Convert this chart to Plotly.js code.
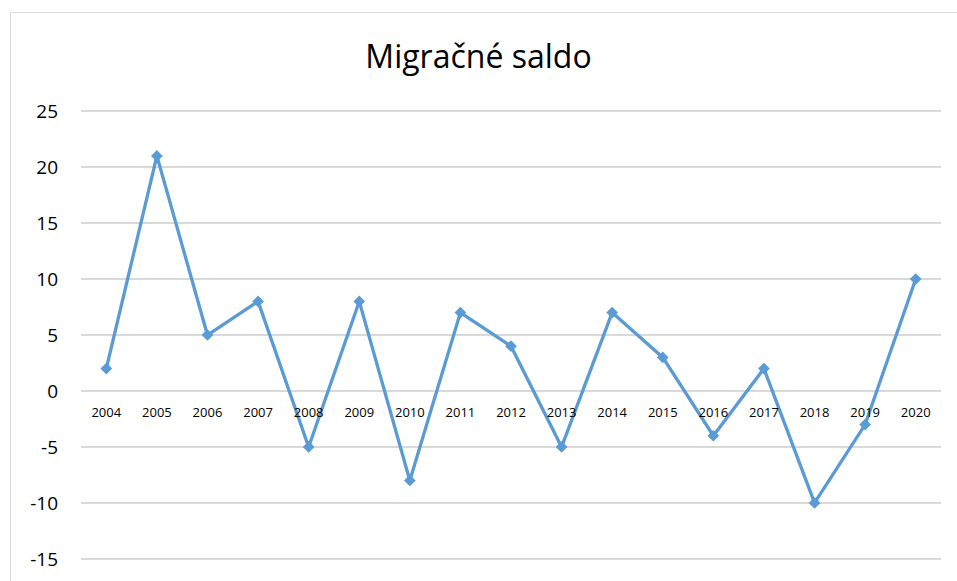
<!DOCTYPE html>
<html>
<head>
<meta charset="utf-8">
<script src="https://cdn.plot.ly/plotly-3.0.1.min.js"></script>
<style>
html,body{margin:0;padding:0;background:#fff;overflow:hidden;}
#frame{position:absolute;left:10px;top:12px;width:980px;height:600px;border:1px solid #d9d9d9;box-sizing:border-box;}
#chart{position:absolute;left:0;top:0;width:957px;height:581px;}
</style>
</head>
<body>
<div id="frame"></div>
<div id="chart"></div>
<script>
const years = ["2004","2005","2006","2007","2008","2009","2010","2011","2012","2013","2014","2015","2016","2017","2018","2019","2020"];
const saldo = [2, 21, 5, 8, -5, 8, -8, 7, 4, -5, 7, 3, -4, 2, -10, -3, 10];
const yTicks = [-15, -10, -5, 0, 5, 10, 15, 20, 25];
const titleText = "Migračné saldo";

const yMin = -15.1, yMax = 25.1;

const trace = {
  x: years,
  y: saldo,
  type: "scatter",
  mode: "lines+markers",
  line: {color: "#5B9BD5", width: 3.3},
  marker: {symbol: "diamond", size: 9, color: "#5B9BD5"},
  hoverinfo: "x+y"
};

const layout = {
  width: 957,
  height: 581,
  paper_bgcolor: "rgba(0,0,0,0)",
  plot_bgcolor: "rgba(0,0,0,0)",
  margin: {l: 81, r: 16, t: 110, b: 21},
  showlegend: false,
  title: {
    text: titleText,
    font: {family: "Open Sans, sans-serif", size: 32, color: "#000"},
    x: 0.5, xanchor: "center",
    y: 1 - 57/581, yanchor: "middle", yref: "container"
  },
  xaxis: {
    type: "category",
    range: [-0.5, years.length - 0.5],
    showgrid: false,
    zeroline: false,
    showline: false,
    ticks: "",
    anchor: "free",
    position: (0 - yMin) / (yMax - yMin),
    tickfont: {family: "Open Sans, sans-serif", size: 13, color: "#000"},
    ticklabelstandoff: 12
  },
  yaxis: {
    range: [yMin, yMax],
    tickvals: yTicks,
    ticktext: yTicks.map(String),
    showgrid: true,
    gridcolor: "#d9d9d9",
    gridwidth: 1.3,
    zeroline: false,
    showline: false,
    ticks: "",
    tickfont: {family: "Open Sans, sans-serif", size: 19, color: "#000"},
    ticklabelstandoff: 22
  }
};

Plotly.newPlot("chart", [trace], layout, {displayModeBar: false, staticPlot: true});
</script>
</body>
</html>
